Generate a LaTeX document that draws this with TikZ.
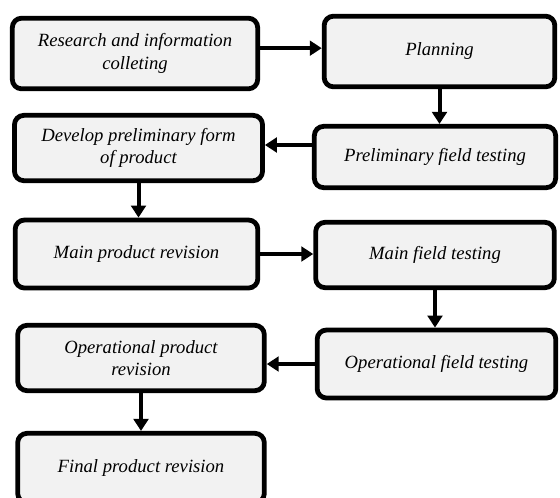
\documentclass[tikz,border=0pt]{standalone}
\usepackage{fontspec}
\setmainfont{Liberation Serif}
\usetikzlibrary{arrows.meta}

\definecolor{boxfill}{HTML}{F2F2F2}

\begin{document}
\begin{tikzpicture}[%
    x=0.75pt, y=-0.75pt,
    stagebox/.style={
        draw,
        rectangle,
        rounded corners = 7pt,
        line width = 3.6pt,
        fill = boxfill,
        align = center,
        inner sep = 2pt,
        font = \fontsize{14}{17}\selectfont\itshape,
        anchor = center,
        },
    flowarrow/.style={
        -{Triangle[length=9pt, width=11pt]},
        line width = 3pt,
        },
]

\useasboundingbox (0,0) rectangle (560,497);

% left column
\node[stagebox, minimum width=184pt, minimum height=53pt] (research) at (135,53.5)
    {Research and information\\colleting};
\node[stagebox, minimum width=186pt, minimum height=49pt] (develop) at (138.5,148)
    {Develop preliminary form\\of product};
\node[stagebox, minimum width=182pt, minimum height=51pt] (mainrev) at (136.5,254)
    {Main product revision};
\node[stagebox, minimum width=185pt, minimum height=49pt] (operrev) at (141,358)
    {Operational product\\revision};
\node[stagebox, minimum width=185pt, minimum height=52pt] (finalrev) at (141,468)
    {Final product revision};

% right column
\node[stagebox, minimum width=173pt, minimum height=53pt] (planning) at (439.5,51.5)
    {Planning};
\node[stagebox, minimum width=181pt, minimum height=46pt] (prelimtest) at (435,157)
    {Preliminary field testing};
\node[stagebox, minimum width=179pt, minimum height=49pt] (maintest) at (435,255)
    {Main field testing};
\node[stagebox, minimum width=179pt, minimum height=51pt] (opertest) at (436.5,364)
    {Operational field testing};

% connectors
\draw[flowarrow] ([yshift=4pt]research.east) -- ([yshift=4pt]research.east -| planning.west);
\draw[flowarrow] (planning.south) -- (planning.south |- prelimtest.north);
\draw[flowarrow] ([yshift=9pt]prelimtest.west) -- ([yshift=9pt]prelimtest.west -| develop.east);
\draw[flowarrow] (develop.south) -- (develop.south |- mainrev.north);
\draw[flowarrow] (mainrev.east) -- (mainrev.east -| maintest.west);
\draw[flowarrow] (maintest.south) -- (maintest.south |- opertest.north);
\draw[flowarrow] (opertest.west) -- (opertest.west -| operrev.east);
\draw[flowarrow] (operrev.south) -- (operrev.south |- finalrev.north);

\end{tikzpicture}
\end{document}
